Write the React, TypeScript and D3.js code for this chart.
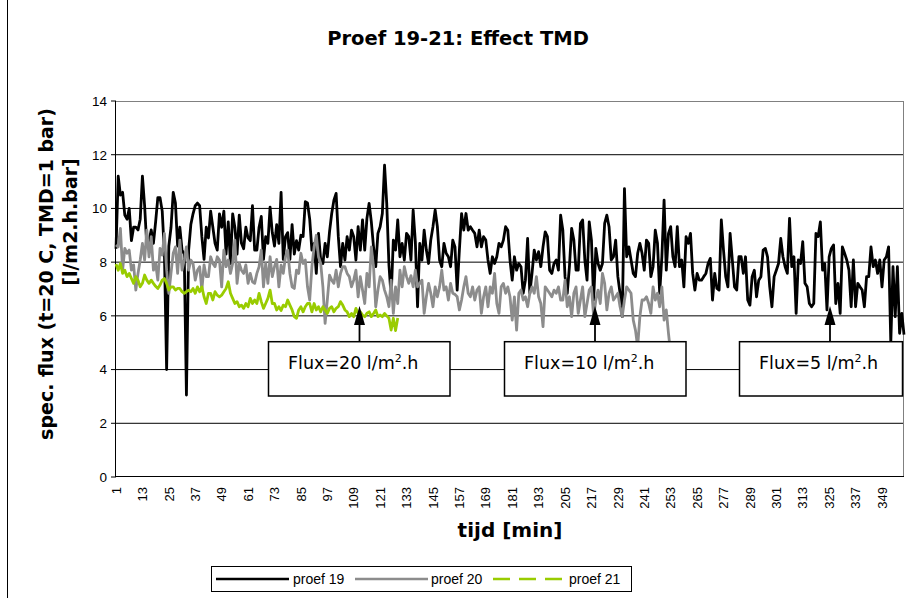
import React from 'react';
import * as d3 from 'd3';

// ---------- data ----------
const minutes: number[] = d3.range(1, 360);
const xTickLabels = [1, 13, 25, 37, 49, 61, 73, 85, 97, 109, 121, 133, 145, 157, 169, 181, 193, 205, 217, 229, 241, 253, 265, 277, 289, 301, 313, 325, 337, 349];
const yTicks = [0, 2, 4, 6, 8, 10, 12, 14];

const proef19 = [
  8.5, 11.2, 10.5, 10.6, 9.75, 9.6, 10.0, 8.8, 9.3, 9.3, 9.2, 9.6, 11.2, 10.1, 8.6, 8.8, 9.2, 8.7, 9.5, 10.4,
  10.4, 9.9, 8.3, 4.0, 8.6, 9.3, 10.6, 10.2, 8.6, 9.3, 8.45, 8.3, 3.05, 8.45, 9.4, 9.8, 10.1, 10.2, 10.1, 8.95,
  8.1, 9.3, 8.9, 9.9, 9.3, 8.7, 8.45, 9.8, 9.3, 9.9, 8.3, 9.5, 7.95, 9.8, 9.3, 8.3, 9.75, 8.7, 8.5, 9.3,
  8.9, 8.8, 10.1, 8.45, 8.45, 9.3, 9.7, 8.1, 8.95, 8.7, 10.05, 9.1, 8.6, 9.4, 8.7, 10.6, 8.1, 8.95, 9.1, 8.1,
  9.4, 8.3, 8.8, 8.45, 9.0, 8.95, 10.25, 10.2, 9.6,
  8.45, 8.7, 7.58, 9.07, 8.08, 7.95, 8.7, 8.2, 9.13, 9.81, 10.31, 10.56, 8.95, 7.83, 8.7, 8.08, 8.95, 8.45, 9.19, 8.95,
  8.08, 9.32, 8.45, 9.57, 8.45, 9.63, 10.19, 9.5, 8.57, 7.83, 9.07, 9.32, 9.81, 11.61, 10.19, 7.9, 6.71, 8.82, 8.45, 9.57,
  8.2, 8.7, 8.08, 9.07, 8.95, 8.08, 9.94, 8.76, 6.34, 8.7, 8.08, 9.19, 8.45, 7.95, 8.82, 9.32, 9.94, 9.32, 8.08, 7.83,
  8.7, 8.33, 8.2, 7.83, 8.82, 8.57, 6.96, 8.45, 9.81, 9.19, 9.81, 9.19, 9.32, 9.19, 9.07, 8.57, 9.19, 8.57, 8.95, 8.82,
  8.08, 7.58, 8.2, 7.95, 8.2, 8.7, 8.57, 8.82, 9.32, 9.19,
  8.08, 7.33, 8.2, 7.7, 7.95, 7.83, 6.84, 7.33, 8.88, 6.84, 7.58, 8.45, 8.08, 8.39, 7.83, 8.57, 9.13, 8.95, 7.7, 7.58,
  7.95, 8.08, 7.7, 9.75, 9.19, 7.46, 6.84, 7.83, 9.26, 8.82, 7.7, 7.7, 9.44, 9.57, 8.08, 7.33, 9.5, 8.82, 6.59, 8.51,
  7.95, 7.7, 7.95, 9.44, 9.75, 9.32, 8.08, 8.2, 8.82, 7.46, 6.84, 5.97, 10.74, 8.2, 8.57, 8.08, 7.58, 7.46, 8.33, 8.7,
  8.33, 7.7, 8.82, 8.7, 7.46, 7.83, 9.19, 8.7, 6.84, 8.2, 10.31, 7.7, 9.07, 9.32, 8.2, 7.83, 9.32, 7.83, 8.08, 7.08,
  8.95, 8.7, 9.07, 7.58, 6.96, 7.58, 7.33, 7.33,
  7.46, 7.58, 7.95, 8.14, 6.59, 7.58, 7.02, 6.96, 9.57, 8.45, 7.46, 7.08, 9.07, 8.08, 7.08, 6.96, 8.2, 8.2, 7.58, 8.2,
  6.59, 6.4, 7.46, 7.7, 6.71, 7.33, 7.46, 8.45, 8.51, 8.2, 7.08, 6.34, 7.46, 7.7, 7.95, 8.88, 8.2, 7.83, 7.58, 9.63,
  7.83, 8.2, 6.09, 8.08, 7.95, 8.76, 7.21, 7.08, 6.46, 6.34, 6.46, 9.07, 8.95, 9.5, 7.7, 7.95, 6.22, 8.2, 8.51, 8.64,
  6.46, 7.21, 6.09, 8.57, 8.33, 8.08, 7.7, 6.34, 8.08, 6.34, 7.21, 7.08, 6.96, 6.34, 7.46, 7.46, 8.57, 7.83, 8.08, 7.58,
  8.08, 7.08, 8.08, 8.2, 8.57, 5.0, 7.83, 5.97, 7.83, 5.35, 6.09, 5.3,
];

const proef20 = [
  8.64, 8.57, 9.26, 7.7, 8.51, 8.33, 8.45, 7.7, 7.9, 6.96, 7.58, 8.08, 8.7, 8.08, 9.19, 8.2, 8.95, 7.7, 7.95, 7.33,
  8.51, 8.26, 9.07, 7.7, 6.84, 7.6, 8.33, 8.57, 7.58, 8.82, 7.7, 8.08, 8.57, 7.7, 8.08, 7.95, 7.33, 7.7, 7.83, 6.96,
  7.9, 7.46, 7.46, 8.2, 7.95, 7.83, 8.2, 8.08, 7.08, 8.45, 7.83, 8.08, 7.58, 7.95, 8.82, 7.21, 7.95, 7.7, 7.58, 7.9,
  7.21, 7.58, 7.27, 7.21, 7.58, 7.83, 8.45, 7.08, 7.95, 7.21, 8.2, 7.46, 7.83, 8.1, 7.08, 7.89, 7.58, 8.2, 8.45, 7.58,
  7.08, 7.02, 7.7, 7.58, 8.33, 7.95, 8.08, 7.08, 6.59,
  7.83, 8.57, 9.0, 8.2, 7.95, 7.08, 5.72, 6.59, 7.52, 7.33, 7.21, 7.7, 7.08, 7.58, 7.83, 7.83, 7.58, 7.46, 7.08, 7.33,
  7.7, 6.71, 7.46, 6.96, 6.46, 7.58, 7.08, 8.57, 7.83, 6.34, 6.96, 7.46, 7.33, 6.96, 6.71, 6.34, 7.33, 6.09, 7.08, 6.46,
  7.7, 7.08, 7.83, 7.46, 7.21, 7.5, 7.08, 7.7, 7.08, 7.21, 7.33, 6.09, 6.71, 7.21, 6.84, 6.34, 7.08, 6.71, 7.08, 7.7,
  6.96, 7.08, 6.59, 7.21, 6.84, 6.8, 6.71, 6.22, 6.59, 7.08, 7.46, 6.84, 6.71, 7.08, 6.59, 6.96, 7.08, 6.09, 6.71, 7.08,
  6.34, 7.08, 6.84, 7.58, 6.46, 6.09, 7.08, 7.21, 6.84, 7.08,
  6.71, 5.84, 6.71, 5.47, 6.84, 6.96, 6.59, 6.71, 6.34, 6.84, 7.08, 6.84, 7.46, 6.71, 6.46, 5.6, 7.08, 6.96, 6.84, 6.71,
  6.96, 6.84, 7.08, 6.59, 6.59, 7.33, 6.34, 6.71, 5.97, 6.84, 7.08, 6.09, 6.59, 7.08, 5.97, 6.46, 6.96, 7.08, 5.97, 6.59,
  6.96, 6.46, 7.58, 7.21, 6.22, 6.84, 7.08, 6.59, 6.71, 6.84, 6.34, 5.97, 6.59, 7.08, 6.96, 6.84, 5.84, 5.47, 4.85, 5.97,
  6.59, 6.59, 6.71, 6.46, 6.09, 7.08, 6.59, 6.84, 6.34, 7.08, 5.84, 6.22, 5.35, 4.6,
];

const proef21 = [
  7.93, 7.7, 7.95, 7.58, 7.7, 7.46, 7.58, 7.39, 7.21, 7.46, 7.33, 7.08, 7.21, 7.52, 7.33, 7.21, 7.33, 7.21, 7.1, 7.02,
  7.15, 7.33, 7.39, 7.21, 6.96, 7.08, 7.08, 6.96, 7.02, 7.02, 6.9, 6.84, 6.9, 6.96, 6.9, 7.02, 6.84, 7.08, 6.9, 7.08,
  6.71, 6.46, 6.84, 6.84, 6.59, 6.9, 6.77, 6.71, 6.77, 6.9, 7.02, 7.27, 6.84, 6.65, 6.46, 6.53, 6.34, 6.4, 6.28, 6.46,
  6.34, 6.65, 6.46, 6.59, 6.46, 6.84, 6.53, 6.28, 6.46, 6.65, 6.96, 6.46, 6.46, 6.22, 6.34, 6.2, 6.4, 6.34, 6.59, 6.4,
  6.22, 5.97, 5.91, 6.22, 6.34, 6.15, 6.34, 6.46, 6.46,
  6.15, 6.46, 6.22, 6.34, 6.15, 6.34, 6.22, 6.09, 6.28, 6.34, 6.15, 6.28, 6.34, 6.53, 6.4, 6.22, 6.15, 5.97, 6.09, 5.97,
  6.28, 6.09, 6.15, 6.03, 5.97, 6.1, 6.15, 5.97, 6.09, 6.22, 5.97, 6.03, 5.97, 6.09, 6.0, 5.91, 5.47, 5.91, 5.45, 5.92,
];

const seriesNames = ['proef 19', 'proef 20', 'proef 21'];
const fluxLabels = ['20', '10', '5'];

// ---------- layout ----------
const W = 906;
const H = 598;
const PL = 116, PR = 904, PT = 101, PB = 477;
const boxes = [
  { x0: 268.5, x1: 450, tx: 288, ax: 359.5 },
  { x0: 504.5, x1: 686, tx: 524, ax: 595 },
  { x0: 739.5, x1: 902.5, tx: 759, ax: 830 },
];
const boxTop = 341.7, boxBottom = 396;

const BOLD = "'DejaVu Sans', Verdana, sans-serif";
const ARIAL = "'Liberation Sans', Arial, sans-serif";

export default function App() {
  const x = d3.scaleLinear().domain([1, 359]).range([PL, PR]);
  const y = d3.scaleLinear().domain([0, 14]).range([PB, PT]);
  const line = d3.line<number>().x((_, i) => x(minutes[i])).y((d) => y(d));
  const series = [
    { name: seriesNames[0], data: proef19, color: '#000000' },
    { name: seriesNames[1], data: proef20, color: '#8c8c8c' },
    { name: seriesNames[2], data: proef21, color: '#99cc00' },
  ];

  return (
    <svg width={W} height={H} style={{ position: 'absolute', left: 0, top: 0, background: '#fff' }}>
      <rect x={0} y={0} width={W} height={H} fill="#fff" />
      <line x1={7.5} y1={0} x2={7.5} y2={H} stroke="#000" strokeWidth={1} />

      <text x={458} y={45} textAnchor="middle" fontFamily={BOLD} fontWeight="bold" fontSize={19.5}>
        Proef 19-21: Effect TMD
      </text>

      {/* gridlines */}
      {yTicks.filter((t) => t > 0 && t < 14).map((t) => (
        <line key={t} x1={PL} x2={PR} y1={y(t)} y2={y(t)} stroke="#000" strokeWidth={1} />
      ))}
      <line x1={PL} x2={PR} y1={PT + 0.5} y2={PT + 0.5} stroke="#808080" strokeWidth={1} />
      <line x1={PR - 0.5} x2={PR - 0.5} y1={PT} y2={PB} stroke="#808080" strokeWidth={1} />

      {/* axes */}
      <line x1={PL - 0.5} x2={PL - 0.5} y1={PT} y2={PB} stroke="#000" strokeWidth={1} />
      <line x1={PL} x2={PR} y1={PB - 0.5} y2={PB - 0.5} stroke="#000" strokeWidth={1} />
      {yTicks.map((t) => (
        <g key={t}>
          <line x1={PL - 5} x2={PL} y1={y(t)} y2={y(t)} stroke="#000" strokeWidth={1} />
          <text x={107} y={y(t)} dy="0.36em" textAnchor="end" fontFamily={ARIAL} fontSize={13.5}>
            {t}
          </text>
        </g>
      ))}
      {xTickLabels.map((t) => (
        <text
          key={t}
          transform={`translate(${x(t)},487) rotate(-90)`}
          dy="0.36em"
          textAnchor="end"
          fontFamily={ARIAL}
          fontSize={13}
        >
          {t}
        </text>
      ))}

      {/* series */}
      {series.map((s) => (
        <path
          key={s.name}
          d={line(s.data) || ''}
          fill="none"
          stroke={s.color}
          strokeWidth={2.8}
          strokeLinejoin="round"
        />
      ))}

      {/* annotations */}
      {boxes.map((b, i) => (
        <g key={i}>
          <line x1={b.ax} x2={b.ax} y1={boxTop} y2={318} stroke="#000" strokeWidth={1.8} />
          <path d={`M${b.ax},306 L${b.ax - 5.5},325 L${b.ax + 5.5},325 Z`} fill="#000" />
          <rect x={b.x0} y={boxTop} width={b.x1 - b.x0} height={boxBottom - boxTop} fill="#fff" stroke="#000" strokeWidth={1.5} />
          <text x={b.tx} y={369} fontFamily={BOLD} fontSize={17.5}>
            {`Flux=${fluxLabels[i]} l/m`}
            <tspan fontSize={11} dy={-7}>2</tspan>
            <tspan dy={7}>.h</tspan>
          </text>
        </g>
      ))}

      {/* axis titles */}
      <text transform="translate(46,274) rotate(-90)" dy="0.35em" textAnchor="middle" fontFamily={BOLD} fontWeight="bold" fontSize={19}>
        spec. flux (t=20 C, TMD=1 bar)
      </text>
      <text transform="translate(70,222) rotate(-90)" dy="0.35em" textAnchor="middle" fontFamily={BOLD} fontWeight="bold" fontSize={19}>
        [l/m2.h.bar]
      </text>
      <text x={510} y={537} textAnchor="middle" fontFamily={BOLD} fontWeight="bold" fontSize={20}>
        tijd [min]
      </text>

      {/* legend */}
      <rect x={211.5} y={566.5} width={420} height={25} fill="#fff" stroke="#000" strokeWidth={1} />
      <line x1={216} x2={289} y1={579} y2={579} stroke="#000" strokeWidth={2.5} />
      <text x={293} y={579} dy="0.36em" fontFamily={ARIAL} fontSize={14}>{seriesNames[0]}</text>
      <line x1={355} x2={428} y1={579} y2={579} stroke="#8c8c8c" strokeWidth={2.5} />
      <text x={431} y={579} dy="0.36em" fontFamily={ARIAL} fontSize={14}>{seriesNames[1]}</text>
      <line x1={493} x2={563} y1={579} y2={579} stroke="#99cc00" strokeWidth={2.5} strokeDasharray="17 9" />
      <text x={569} y={579} dy="0.36em" fontFamily={ARIAL} fontSize={14}>{seriesNames[2]}</text>
    </svg>
  );
}
